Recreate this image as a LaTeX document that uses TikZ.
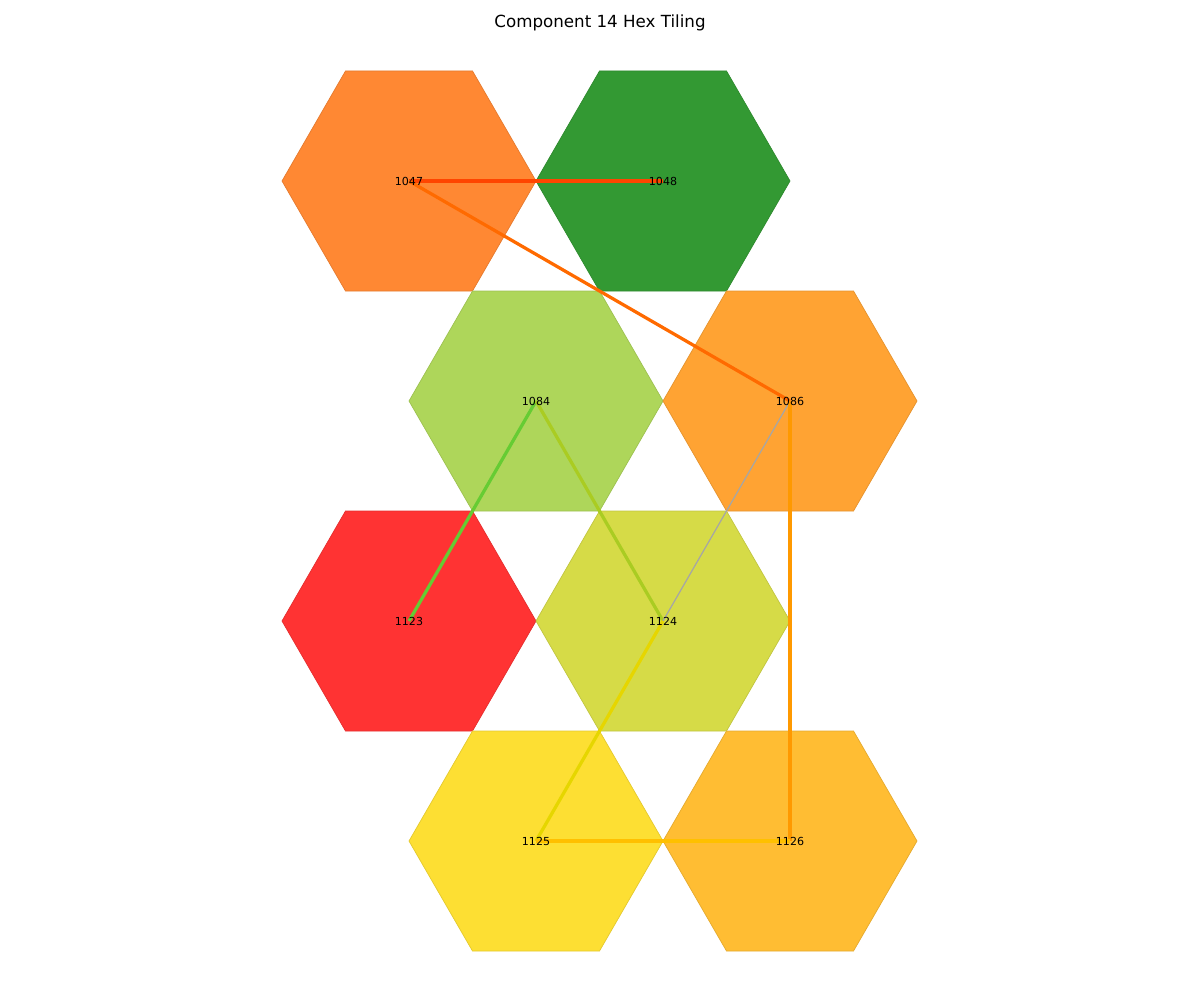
\documentclass[tikz,border=0pt]{standalone}
\usepackage{fontspec}
\setmainfont{DejaVu Sans}
\usetikzlibrary{calc}

\definecolor{hexA}{HTML}{FF8833}
\definecolor{hexB}{HTML}{339933}
\definecolor{hexC}{HTML}{AED65A}
\definecolor{hexD}{HTML}{FFA333}
\definecolor{hexE}{HTML}{FF3333}
\definecolor{hexF}{HTML}{D6DB47}
\definecolor{hexG}{HTML}{FDDF33}
\definecolor{hexH}{HTML}{FFBD33}
\definecolor{linkA}{HTML}{FF4500}
\definecolor{linkB}{HTML}{FF6A00}
\definecolor{linkC}{HTML}{66CC33}
\definecolor{linkD}{HTML}{AACC22}
\definecolor{linkE}{HTML}{FF9900}
\definecolor{linkF}{HTML}{E6D600}
\definecolor{linkG}{HTML}{FFC000}

\begin{document}
\begin{tikzpicture}[
  x=0.02cm, y=-0.02cm,
  hexcell/.style={fill=#1, draw=#1!90!black, line width=0.4pt},
  link/.style={line width=1.85pt, draw=#1},
  cellid/.style={font=\fontsize{6.3}{7}\selectfont, inner sep=0pt}
]
  \useasboundingbox (0,0) rectangle (1200,1000);
  \node[font=\fontsize{9.5}{11}\selectfont] (title) at (600,23) {Component 14 Hex Tiling};

  % cell centres
  \foreach \id/\cx/\cy/\col in {1047/409/181/hexA, 1048/663/181/hexB,
      1084/536/401/hexC, 1086/790/401/hexD, 1123/409/621/hexE,
      1124/663/621/hexF, 1125/536/841/hexG, 1126/790/841/hexH}{
    \coordinate (c\id) at (\cx,\cy);
    \path[hexcell=\col] (\cx+127,\cy) -- (\cx+63.5,\cy+110) -- (\cx-63.5,\cy+110)
      -- (\cx-127,\cy) -- (\cx-63.5,\cy-110) -- (\cx+63.5,\cy-110) -- cycle;
  }

  % links
  \draw[link=linkA] (c1047) -- (c1048);
  \draw[link=linkB] (c1047) -- (c1086);
  \draw[link=linkC] (c1084) -- (c1123);
  \draw[link=linkD] (c1084) -- (c1124);
  \draw[line width=0.7pt, draw=black!35] (c1086) -- (c1124);
  \draw[link=linkE] (c1086) -- (c1126);
  \draw[link=linkF] (c1124) -- (c1125);
  \draw[link=linkG] (c1125) -- (c1126);

  % labels
  \foreach \id in {1047,1048,1084,1086,1123,1124,1125,1126}
    \node[cellid] (n\id) at (c\id) {\id};
\end{tikzpicture}
\end{document}
